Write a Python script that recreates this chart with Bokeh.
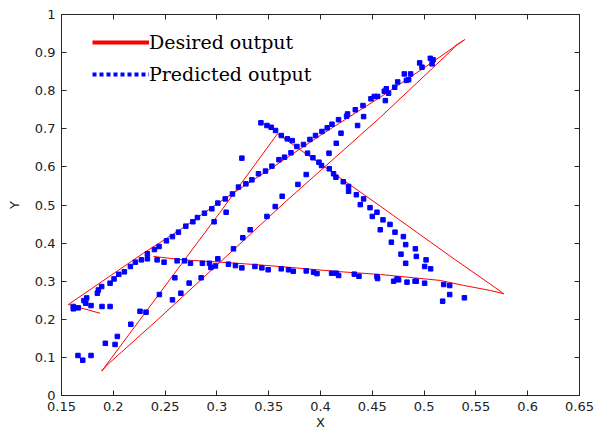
from bokeh.plotting import figure
from bokeh.models import Range1d, LinearAxis, FixedTicker, Legend, LegendItem
from bokeh.embed import file_html
from bokeh.resources import INLINE

# ---------------- data ----------------
x_ticks = [0.15, 0.2, 0.25, 0.3, 0.35, 0.4, 0.45, 0.5, 0.55, 0.6, 0.65]
x_tick_labels = ["0.15", "0.2", "0.25", "0.3", "0.35", "0.4", "0.45", "0.5", "0.55", "0.6", "0.65"]
y_ticks = [0, 0.1, 0.2, 0.3, 0.4, 0.5, 0.6, 0.7, 0.8, 0.9, 1.0]
y_tick_labels = ["0", "0.1", "0.2", "0.3", "0.4", "0.5", "0.6", "0.7", "0.8", "0.9", "1"]

desired_x = [0.1872, 0.1566, 0.229, 0.265, 0.300, 0.350, 0.400, 0.4577, 0.500, 0.5392,
             0.530, 0.528, 0.4577, 0.3676, 0.3031, 0.242, 0.1952, 0.1888,
             0.2677, 0.3031, 0.3585, 0.4577, 0.506, 0.5318, 0.564, 0.5769,
             0.564, 0.538, 0.5157, 0.4899, 0.4577, 0.4159, 0.3676, 0.3353, 0.3031,
             0.2677, 0.2387]
desired_y = [0.216, 0.2388, 0.3735, 0.436, 0.503, 0.592, 0.683, 0.783, 0.860, 0.934,
             0.918, 0.910, 0.730, 0.512, 0.350, 0.197, 0.083, 0.064,
             0.352, 0.481, 0.687, 0.497, 0.403, 0.353, 0.292, 0.267,
             0.2756, 0.289, 0.302, 0.309, 0.3176, 0.3255, 0.337, 0.344, 0.350,
             0.356, 0.365]

pred_x = [0.1614, 0.1614, 0.1662, 0.1717, 0.1734, 0.1743, 0.1785, 0.1846, 0.1856, 0.1888,
          0.1891, 0.1969, 0.1969, 0.2007, 0.2053, 0.2107, 0.2165, 0.2213, 0.2271, 0.2329,
          0.2329, 0.2397, 0.2442, 0.2513, 0.2571, 0.2629, 0.2700, 0.2768, 0.2812, 0.2880,
          0.2951, 0.3009,
          0.2423, 0.2490, 0.2616, 0.2687, 0.2745, 0.2860, 0.2928, 0.2942, 0.2986, 0.3009,
          0.2973, 0.2594, 0.2732, 0.2848, 0.2445, 0.2652, 0.2571, 0.2258, 0.2316, 0.2169,
          0.2039, 0.2017, 0.1923, 0.1659, 0.1705, 0.1785,
          0.3089, 0.3160, 0.3250, 0.3321, 0.3483, 0.3563,
          0.3111, 0.3179, 0.3241, 0.3367, 0.3434, 0.3495, 0.3621, 0.3691, 0.3737, 0.3862,
          0.3933, 0.3966, 0.4107, 0.4152, 0.4175, 0.4326, 0.4371, 0.4545, 0.4551,
          0.4384, 0.4478, 0.4500, 0.4545, 0.4577,
          0.4603, 0.4671, 0.4719, 0.4684, 0.4800, 0.4822, 0.4777, 0.4822, 0.4916, 0.4925,
          0.5019, 0.5005, 0.5063,
          0.4706, 0.4739, 0.4754, 0.4835, 0.4913, 0.4925, 0.5005, 0.5189, 0.5247, 0.5247,
          0.5179, 0.5389,
          0.3425, 0.3483, 0.3524, 0.3566, 0.3621, 0.3679, 0.3727, 0.3772, 0.3836, 0.3875,
          0.3927, 0.3985, 0.4010, 0.4085, 0.4126, 0.4149, 0.4220, 0.4271, 0.4271, 0.4346,
          0.4416,
          0.3080, 0.3150, 0.3208, 0.3280, 0.3338, 0.3401, 0.3469, 0.3531, 0.3599, 0.3653,
          0.3715, 0.3898, 0.3952, 0.4014, 0.4065, 0.4111, 0.4174, 0.4252, 0.4261, 0.4336,
          0.4410, 0.4487, 0.4519, 0.4551,
          0.3241, 0.4198, 0.4082, 0.4152, 0.3862, 0.3782, 0.3630, 0.4358, 0.4416,
          0.4626, 0.4616, 0.4635, 0.4657, 0.4716, 0.4745, 0.4809, 0.4829, 0.4851, 0.4870,
          0.4957, 0.4980, 0.5060, 0.5086, 0.5077]
pred_y = [0.2336, 0.2275, 0.2300, 0.2490, 0.2420, 0.2560, 0.2360, 0.2685, 0.2770, 0.2860,
          0.2336, 0.2336, 0.2948, 0.3060, 0.3180, 0.3246, 0.3386, 0.3500, 0.3560, 0.3587,
          0.3720, 0.3830, 0.3910, 0.4060, 0.4170, 0.4287, 0.4445, 0.4560, 0.4670, 0.4785,
          0.4900, 0.5050,
          0.3560, 0.3500, 0.3535, 0.3535, 0.3470, 0.3470, 0.3470, 0.3360, 0.3400, 0.3587,
          0.4560, 0.3090, 0.2950, 0.3090, 0.2650, 0.2685, 0.2510, 0.2210, 0.2187, 0.1870,
          0.1550, 0.1340, 0.1370, 0.1050, 0.0927, 0.1050,
          0.4810, 0.3850, 0.4140, 0.4350, 0.4700, 0.4960,
          0.3447, 0.3410, 0.3350, 0.3386, 0.3350, 0.3300, 0.3325, 0.3300, 0.3260, 0.3270,
          0.3237, 0.3200, 0.3210, 0.3210, 0.3150, 0.3185, 0.3130, 0.3120, 0.3070,
          0.5010, 0.4930, 0.4700, 0.4810, 0.4350,
          0.4610, 0.4490, 0.4287, 0.4024, 0.4170, 0.3960, 0.3710, 0.3470, 0.3850, 0.3650,
          0.3560, 0.3386, 0.3325,
          0.3000, 0.3060, 0.3036, 0.2975, 0.3000, 0.3000, 0.2948, 0.2913, 0.2887, 0.2650,
          0.2475, 0.2564,
          0.7157, 0.7087, 0.7040, 0.6955, 0.6824, 0.6737, 0.6690, 0.6535, 0.6588, 0.6360,
          0.6240, 0.6124, 0.6037, 0.5950, 0.5820, 0.5730, 0.5610, 0.5486, 0.5360, 0.5270,
          0.5160,
          0.5160, 0.5290, 0.5470, 0.5555, 0.5660, 0.5820, 0.5890, 0.6020, 0.6190, 0.6255,
          0.6370, 0.6720, 0.6824, 0.6930, 0.7026, 0.7120, 0.7240, 0.7330, 0.7390, 0.7500,
          0.7610, 0.7787, 0.7850, 0.7850,
          0.6230, 0.6885, 0.6360, 0.6620, 0.5800, 0.5540, 0.5230, 0.7087, 0.7320,
          0.7740, 0.7987, 0.8050, 0.7935, 0.8090, 0.8230, 0.8440, 0.8270, 0.8290, 0.8440,
          0.8730, 0.8617, 0.8850, 0.8810, 0.8706]

x_label = "X"
y_label = "Y"
series_names = ["Desired output", "Predicted output"]

# ---------------- figure ----------------
p = figure(width=594, height=432, output_backend="svg", toolbar_location=None,
           x_range=Range1d(0.15, 0.65), y_range=Range1d(0, 1),
           min_border_left=61, min_border_right=15, min_border_top=14, min_border_bottom=37,
           x_axis_label=x_label, y_axis_label=y_label)
p.xgrid.visible = False
p.ygrid.visible = False
p.outline_line_color = "#262626"
p.outline_line_width = 1
p.background_fill_color = "white"
p.border_fill_color = "white"

tick_font = "DejaVu Sans"
for ax, ticks, labels in ((p.xaxis[0], x_ticks, x_tick_labels), (p.yaxis[0], y_ticks, y_tick_labels)):
    ax.ticker = FixedTicker(ticks=ticks)
    ax.major_label_overrides = {t: l for t, l in zip(ticks, labels)}
    ax.major_tick_in = 5
    ax.major_tick_out = 0
    ax.minor_tick_line_color = None
    ax.axis_line_color = "#262626"
    ax.major_tick_line_color = "#262626"
    ax.major_label_text_font = tick_font
    ax.major_label_text_font_size = "13px"
    ax.major_label_text_color = "#222222"
    ax.axis_label_text_font = tick_font
    ax.axis_label_text_font_size = "13px"
    ax.axis_label_text_font_style = "normal"
    ax.axis_label_text_color = "#222222"

p.xaxis[0].major_label_standoff = 6
p.xaxis[0].axis_label_standoff = 1
p.yaxis[0].major_label_standoff = 6
p.yaxis[0].axis_label_standoff = 10

for side, ticks in (("above", x_ticks), ("right", y_ticks)):
    ax = LinearAxis(ticker=FixedTicker(ticks=ticks), major_tick_in=5, major_tick_out=0,
                    minor_tick_line_color=None, major_label_text_font_size="1px",
                    major_label_text_color=None,
                    major_label_standoff=0, axis_line_color="#262626",
                    major_tick_line_color="#262626")
    p.add_layout(ax, side)

# data marks
p.line(desired_x, desired_y, line_color="#ff0000", line_width=1)
p.scatter(pred_x, pred_y, marker="square", size=4.5, fill_color="#0000ff", line_color="#0000ff")

# legend-only renderers (hidden in the plot, drawn only as legend samples)
leg_red = p.line(desired_x, desired_y, line_color="#ff0000", line_width=4, visible=False)
leg_blue = p.line(pred_x, pred_y, line_color="#0000ff", line_width=4, line_dash="4 3",
                  visible=False)

legend = Legend(items=[LegendItem(label=series_names[0], renderers=[leg_red]),
                       LegendItem(label=series_names[1], renderers=[leg_blue])],
                location=(31, 310), padding=0, margin=0, spacing=10,
                glyph_width=57, glyph_height=20, label_height=20, label_standoff=0,
                label_text_font="DejaVu Serif", label_text_font_size="19px",
                label_text_color="black",
                border_line_color=None, background_fill_alpha=0)
p.add_layout(legend)

open("out.html", "w").write(file_html(p, INLINE))
